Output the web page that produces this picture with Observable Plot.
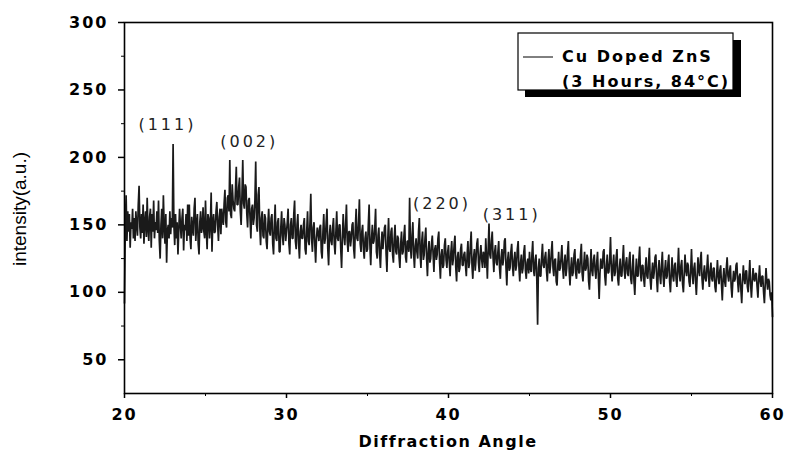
<!DOCTYPE html>
<html>
<head>
<meta charset="utf-8">
<script src="https://cdn.jsdelivr.net/npm/d3@7"></script>
<script src="https://cdn.jsdelivr.net/npm/@observablehq/plot@0.6"></script>
<style>
  html, body { margin: 0; padding: 0; background: white; }
  #chart { width: 786px; height: 453px; }
</style>
</head>
<body>
<div id="chart"></div>
<script>
// Diffraction angle grid (degrees 2θ): start and step of the scan
const angleStart = 20;
const angleStep = 0.05;

// Intensity (a.u.), one row per degree (20 readings each)
const intensity = [
  92,150,172,138,160,145,158,133,152,147,162,140,155,138,160,150,142,165,179,148,   // 20
  140,158,144,165,136,152,160,141,170,147,138,156,162,133,158,145,168,140,152,146,  // 21
  160,144,168,138,125,150,162,140,172,148,136,158,122,146,150,140,160,143,155,148,  // 22
  210,150,135,158,140,152,128,146,162,150,140,155,162,131,150,146,158,138,165,142,  // 23
  165,140,132,156,148,142,162,170,138,150,158,136,128,152,160,144,148,163,145,140,  // 24
  168,146,132,158,155,140,150,174,130,152,158,144,145,160,167,150,138,156,162,143,  // 25
  162,155,150,166,176,152,148,170,172,160,198,158,155,180,168,162,160,176,193,165,  // 26
  165,178,185,160,150,172,198,166,162,180,178,158,148,168,170,155,140,162,165,150,  // 27
  155,168,197,150,145,172,178,148,135,155,160,142,140,158,155,138,132,150,162,145,  // 28
  142,155,158,136,128,150,165,140,138,152,155,130,130,148,160,142,135,155,150,138,  // 29
  145,152,162,136,128,150,155,140,140,158,168,138,132,150,158,136,125,145,150,140,  // 30
  140,150,155,132,128,146,160,138,135,152,173,140,130,148,152,135,122,140,148,144,  // 31
  138,148,150,130,125,145,158,136,140,152,162,132,120,142,150,138,135,148,155,136,  // 32
  128,145,160,140,138,150,150,132,118,140,158,142,135,150,165,138,130,145,145,134,  // 33
  140,150,152,132,125,148,162,140,138,152,169,136,130,145,150,132,125,140,145,130,  // 34
  132,150,165,135,120,140,150,136,138,148,162,130,125,142,148,128,118,136,145,132,  // 35
  140,148,150,128,115,138,155,132,130,145,148,128,122,140,150,130,128,142,140,126,  // 36
  118,136,145,128,130,142,150,126,122,138,138,130,170,135,125,142,152,128,118,134,  // 37
  140,130,125,145,155,128,118,138,145,124,128,140,148,125,112,130,138,122,125,136,  // 38
  142,128,115,132,135,124,128,140,145,122,110,128,132,118,120,135,140,124,118,130,  // 39
  135,122,112,130,138,120,125,136,142,118,108,126,130,115,118,132,136,120,120,128,  // 40
  130,120,112,128,138,118,122,135,145,120,110,126,132,116,125,136,140,122,115,128,  // 41
  135,124,118,130,128,118,140,126,110,132,151,128,125,138,145,126,115,130,135,122,  // 42
  120,130,138,118,110,126,132,120,125,138,140,118,105,124,130,116,118,130,136,120,  // 43
  112,124,130,116,120,132,138,118,108,122,128,114,118,130,135,116,110,122,125,114,  // 44
  130,118,115,128,138,116,112,124,128,110,76,118,125,112,112,126,136,120,118,126,   // 45
  130,116,108,124,132,114,120,130,138,118,112,124,125,108,105,120,130,116,118,126,  // 46
  135,118,110,122,128,112,118,130,138,116,105,118,126,112,115,128,132,114,110,122,  // 47
  125,114,115,128,136,114,108,120,130,116,118,128,125,108,102,118,132,116,112,124,  // 48
  128,116,110,122,130,112,95,114,125,118,118,130,132,112,105,120,128,114,115,124,   // 49
  141,118,108,120,128,112,115,126,132,110,105,118,125,112,112,124,135,116,110,122,  // 50
  126,114,112,124,130,110,106,118,128,108,98,114,125,112,112,124,134,114,108,120,   // 51
  120,110,104,118,126,112,110,122,133,110,102,114,122,110,115,126,128,110,100,116,  // 52
  124,112,106,120,130,112,104,116,124,110,112,122,128,108,100,114,126,112,108,120,  // 53
  122,110,104,118,133,114,108,120,124,106,100,114,128,116,112,122,120,108,104,116,  // 54
  132,114,106,118,122,108,98,112,126,116,112,124,130,110,102,114,120,110,108,118,   // 55
  128,112,104,116,122,110,108,118,118,104,100,112,124,112,106,116,120,106,94,110,   // 56
  118,108,104,118,126,112,108,116,120,104,96,108,116,108,110,120,122,108,100,112,   // 57
  114,102,92,108,120,110,106,116,116,104,100,112,124,106,96,108,118,110,108,114,    // 58
  114,104,96,110,120,108,104,112,112,100,92,106,118,108,102,110,108,98,94,100,      // 59
  82                                                                                // 60
];

// Peak annotations (Miller indices) and where their labels sit
const peakLabels = ["(111)", "(002)", "(220)", "(311)"];
const peakLabelAngle = [22.65, 27.7, 39.6, 43.9];
const peakLabelIntensity = [220, 207.5, 161.7, 153.5];

// Axis ticks
const xTicks = [20, 30, 40, 50, 60];
const xMinorTicks = [25, 35, 45, 55];
const yTicks = [50, 100, 150, 200, 250, 300];
const yMinorTicks = [75, 125, 175, 225, 275];

// Texts
const xTitle = "Diffraction Angle";
const yTitle = "intensity(a.u.)";
const legendLines = ["Cu Doped ZnS", "(3 Hours, 84\u00B0C)"];

const data = intensity.map((v, i) => ({angle: +(angleStart + i * angleStep).toFixed(2), intensity: v}));

const chart = Plot.plot({
  width: 786,
  height: 453,
  marginLeft: 124,
  marginRight: 14,
  marginTop: 22,
  marginBottom: 60,
  style: {fontFamily: "'DejaVu Sans', sans-serif", background: "white", color: "black", overflow: "visible"},
  x: {domain: [20, 60]},
  y: {domain: [25, 300]},
  marks: [
    Plot.line(data, {x: "angle", y: "intensity", stroke: "#1a1a1a", strokeWidth: 1.7, strokeLinejoin: "miter"}),
    Plot.frame({stroke: "black", strokeWidth: 1.6}),
    Plot.axisX({ticks: xTicks, tickSize: 5, tickPadding: 10, fontSize: 16, fontWeight: "bold", label: null, strokeWidth: 1.5}),
    Plot.axisX({ticks: xMinorTicks, tickSize: 3, text: null, label: null}),
    Plot.axisY({ticks: yTicks, tickSize: 6, tickPadding: 10, fontSize: 16, fontWeight: "bold", label: null, strokeWidth: 1.5}),
    Plot.axisY({ticks: yMinorTicks, tickSize: 3, text: null, label: null}),
    Plot.text(peakLabels, {
      x: (d, i) => peakLabelAngle[i],
      y: (d, i) => peakLabelIntensity[i],
      text: d => d,
      fontSize: 16,
      lineAnchor: "bottom",
      fill: "#222"
    })
  ]
});

document.getElementById("chart").appendChild(chart);

const svg = d3.select(chart);
svg.selectAll('[aria-label="y-axis tick label"] text, [aria-label="x-axis tick label"] text')
  .style("letter-spacing", "2px");
svg.selectAll('[aria-label="text"] text').style("letter-spacing", "3px");

// Axis titles
svg.append("text")
  .attr("x", 448).attr("y", 447)
  .attr("text-anchor", "middle")
  .style("font-family", "'DejaVu Sans', sans-serif")
  .style("font-weight", "bold")
  .style("font-size", "16px")
  .style("letter-spacing", "1.5px")
  .text(xTitle);

svg.append("text")
  .attr("transform", "translate(26,209) rotate(-90)")
  .attr("text-anchor", "middle")
  .style("font-family", "'Liberation Sans Narrow', 'Liberation Sans', sans-serif")
  .style("font-size", "19px")
  .text(yTitle);

// Legend box with drop shadow
const lg = svg.append("g");
lg.append("rect").attr("x", 525).attr("y", 40).attr("width", 216).attr("height", 57).attr("fill", "black");
lg.append("rect").attr("x", 518).attr("y", 33).attr("width", 215).attr("height", 57)
  .attr("fill", "white").attr("stroke", "black").attr("stroke-width", 1.2);
lg.append("line").attr("x1", 523).attr("x2", 553).attr("y1", 57).attr("y2", 57)
  .attr("stroke", "black").attr("stroke-width", 1);
legendLines.forEach((t, i) => {
  lg.append("text")
    .attr("x", 562).attr("y", 62 + i * 25)
    .attr("text-anchor", "start")
    .style("font-family", "'DejaVu Sans', sans-serif")
    .style("font-weight", "bold")
    .style("font-size", "16px")
    .style("letter-spacing", "2px")
    .text(t);
});
</script>
</body>
</html>
